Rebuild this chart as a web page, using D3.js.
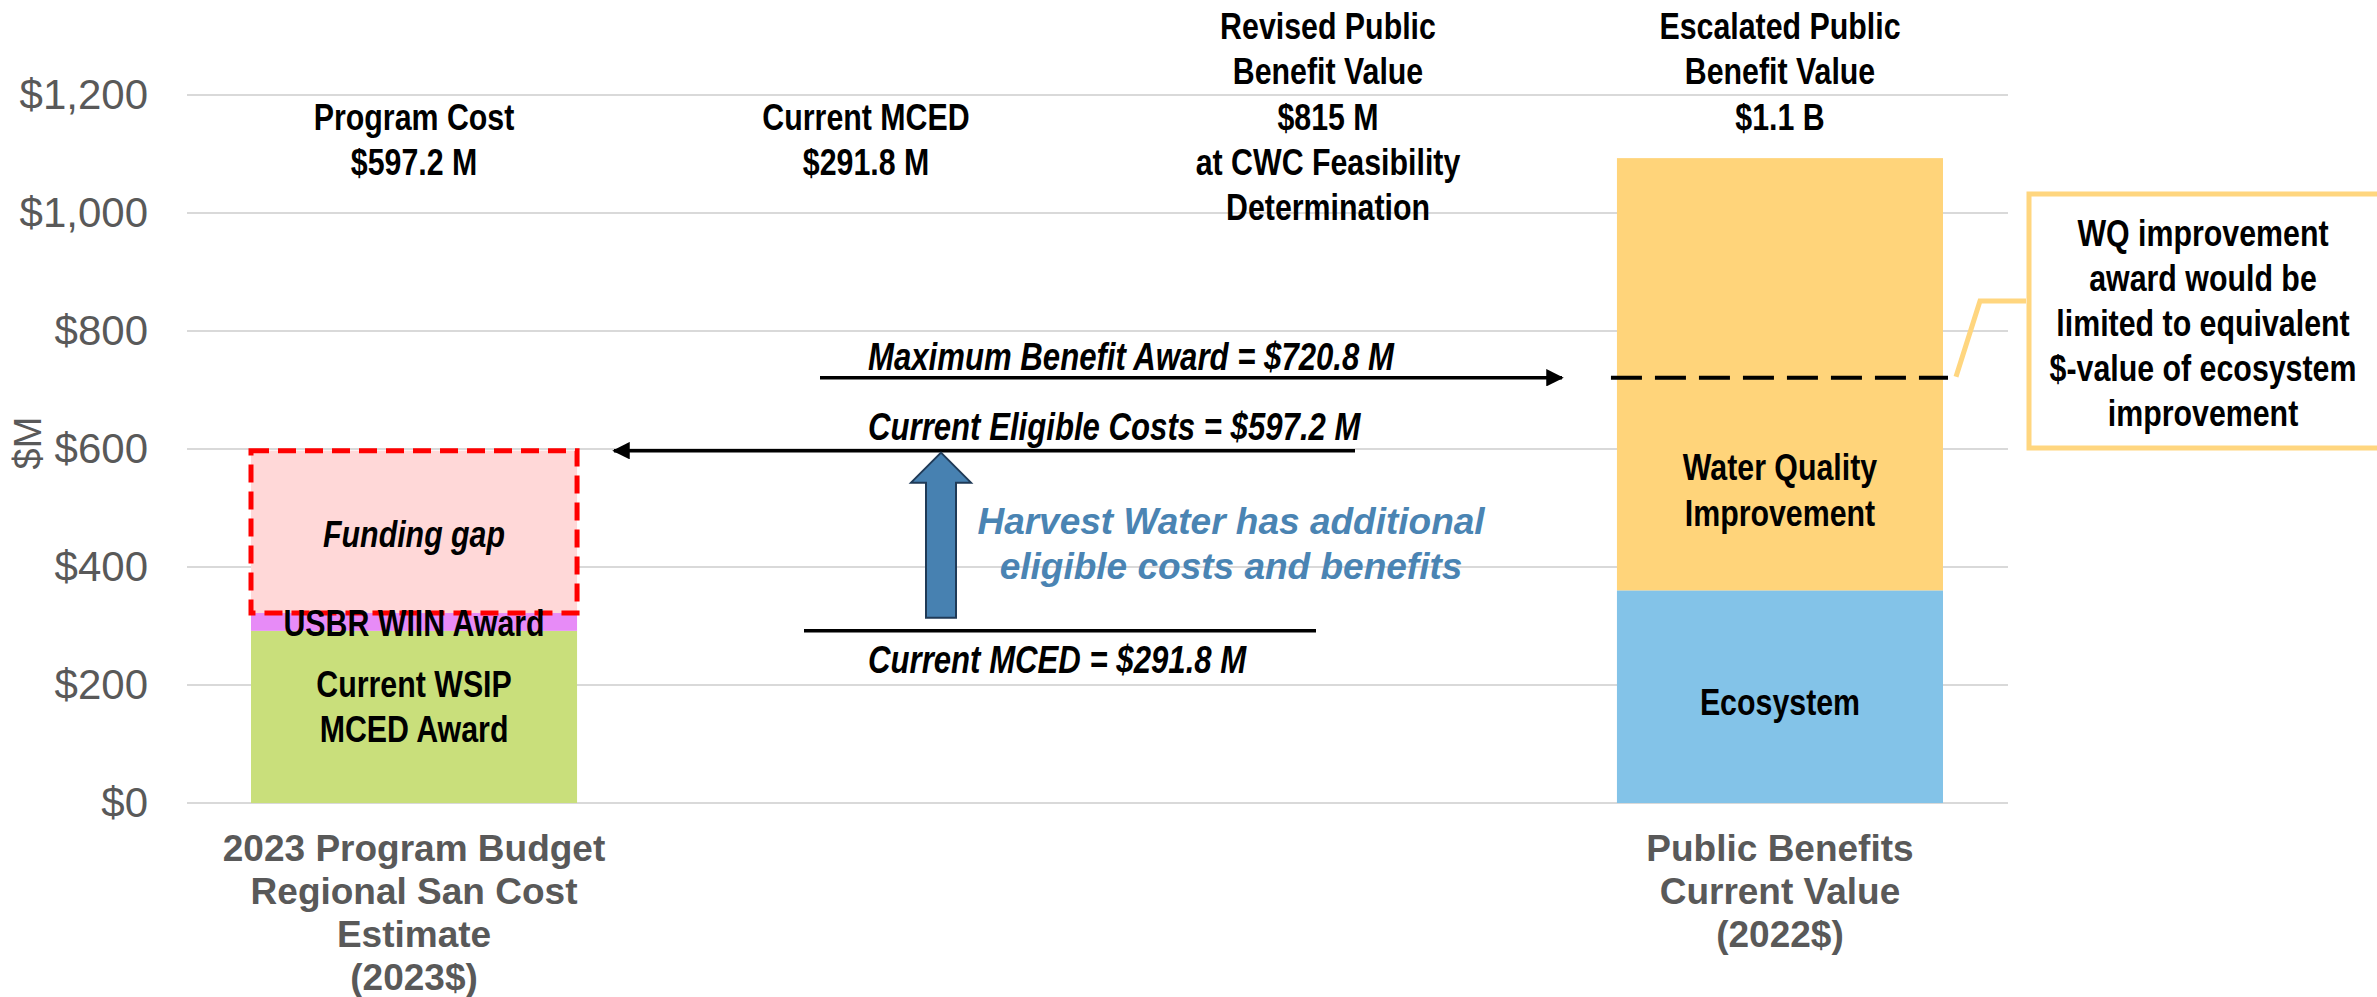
<!DOCTYPE html>
<html><head><meta charset="utf-8">
<script src="https://cdn.jsdelivr.net/npm/d3@7"></script>
<style>
html,body{margin:0;padding:0;background:#fff;}
svg{display:block;}
</style></head><body>
<svg id="chart" width="2377" height="997"></svg>
<script>
// ---------------- data ----------------
const categories = ["2023 Program Budget|Regional San Cost|Estimate|(2023$)", "Public Benefits|Current Value|(2022$)"];
const costSeries = ["Current WSIP|MCED Award", "USBR WIIN Award", "Funding gap"];
const costValues = [291.8, 30.2, 275.2];
const benefitSeries = ["Ecosystem", "Water Quality|Improvement"];
const benefitValues = [360.4, 732.6];
const tickValues = [0, 200, 400, 600, 800, 1000, 1200];
const tickLabels = ["$0", "$200", "$400", "$600", "$800", "$1,000", "$1,200"];
const refNames = ["Maximum Benefit Award = $720.8 M", "Current Eligible Costs = $597.2 M", "Current MCED = $291.8 M"];
const refValues = [720.8, 597.2, 291.8];
const topNotes = [
  ["Program Cost", "$597.2 M"],
  ["Current MCED", "$291.8 M"],
  ["Revised Public", "Benefit Value", "$815 M", "at CWC Feasibility", "Determination"],
  ["Escalated Public", "Benefit Value", "$1.1 B"]
];
const calloutLines = ["WQ improvement", "award would be", "limited to equivalent", "$-value of ecosystem", "improvement"];
const harvestLines = ["Harvest Water has additional", "eligible costs and benefits"];

// ---------------- layout ----------------
const svg = d3.select("#chart");
const SANS = "'Liberation Sans',Arial,sans-serif";
const GRAY = "#595959";
const SQ = 0.82; // horizontal compression to imitate a narrow face

const y = d3.scaleLinear().domain([0, 1200]).range([803, 95]);
const x = d3.scaleBand().domain(categories).range([251, 1943]).paddingInner(0.7613).paddingOuter(0);
const gridX0 = 187, gridX1 = 2008;

const defs = svg.append("defs");
defs.append("marker").attr("id", "ah").attr("viewBox", "0 0 10 10").attr("refX", 9).attr("refY", 5)
  .attr("markerWidth", 5).attr("markerHeight", 5).attr("markerUnits", "strokeWidth").attr("orient", "auto")
  .append("path").attr("d", "M0,0 L10,5 L0,10 z").attr("fill", "#000");

// gridlines
svg.append("g").selectAll("line").data(tickValues).join("line")
  .attr("x1", gridX0).attr("x2", gridX1)
  .attr("y1", d => y(d)).attr("y2", d => y(d))
  .attr("stroke", "#D9D9D9").attr("stroke-width", 2);

// y axis labels
const yAxis = d3.axisLeft(y).tickValues(tickValues).tickFormat((d, i) => tickLabels[i]).tickSize(0).tickPadding(0);
const gy = svg.append("g").attr("transform", "translate(148,0)").call(yAxis);
gy.select(".domain").remove();
gy.selectAll("text").attr("font-family", SANS).attr("font-size", 42).attr("fill", GRAY);

svg.append("text").attr("transform", "translate(28,443) rotate(-90)")
  .attr("text-anchor", "middle").attr("dy", "0.35em")
  .attr("font-family", SANS).attr("font-size", 38).attr("fill", GRAY).text("$M");

// helper for multi-line text; narrow = horizontally compressed bold face
function multi(lines, cx, cy, lh, opts) {
  const o = Object.assign({ size: 37, fill: "#000", italic: false, narrow: true, anchor: "middle" }, opts || {});
  const g = svg.append("g").attr("transform", `translate(${cx},0) scale(${o.narrow ? SQ : 1},1)`);
  const t = g.append("text").attr("text-anchor", o.anchor)
    .attr("font-family", SANS).attr("font-weight", "bold").attr("font-size", o.size).attr("fill", o.fill);
  if (o.italic) t.attr("font-style", "italic");
  const n = lines.length;
  lines.forEach((l, i) => {
    t.append("tspan").attr("x", 0).attr("y", cy + (i - (n - 1) / 2) * lh).attr("dy", "0.35em").text(l);
  });
  return t;
}

// ---------------- left stacked bar ----------------
const costColors = ["#C9DF7B", "#E78BF7", "#FFD8D8"];
let acc = 0;
const costStack = costValues.map((v, i) => { const s = { name: costSeries[i], y0: acc, y1: acc + v, i }; acc += v; return s; });
const bx0 = x(categories[0]), bw = x.bandwidth();
svg.append("g").selectAll("rect").data(costStack).join("rect")
  .attr("x", bx0).attr("width", bw)
  .attr("y", d => y(d.y1)).attr("height", d => y(d.y0) - y(d.y1))
  .attr("fill", (d, i) => costColors[i]);
// funding gap dashed border
const gap = costStack[2];
svg.append("rect").attr("x", bx0).attr("width", bw)
  .attr("y", y(gap.y1)).attr("height", y(gap.y0) - y(gap.y1))
  .attr("fill", "none").attr("stroke", "#FF0000").attr("stroke-width", 5).attr("stroke-dasharray", "18,9");

const cxL = bx0 + bw / 2;
multi(costSeries[0].split("|"), cxL, y((costStack[0].y0 + costStack[0].y1) / 2) - 10, 45);
multi([costSeries[1]], cxL, y((costStack[1].y0 + costStack[1].y1) / 2) + 1, 45);
multi([costSeries[2]], cxL, y((costStack[2].y0 + costStack[2].y1) / 2) + 2, 45, { italic: true });

// ---------------- right stacked bar ----------------
const benColors = ["#83C3E8", "#FFD47A"];
acc = 0;
const benStack = benefitValues.map((v, i) => { const s = { name: benefitSeries[i], y0: acc, y1: acc + v }; acc += v; return s; });
const rx0 = x(categories[1]);
svg.append("g").selectAll("rect").data(benStack).join("rect")
  .attr("x", rx0).attr("width", bw)
  .attr("y", d => y(d.y1)).attr("height", d => y(d.y0) - y(d.y1))
  .attr("fill", (d, i) => benColors[i]);
const cxR = rx0 + bw / 2;
multi([benefitSeries[0]], cxR, y((benStack[0].y0 + benStack[0].y1) / 2) + 5, 45);
multi(benefitSeries[1].split("|"), cxR, y(530), 46);

// dashed limit line on right bar at max benefit
svg.append("line").attr("x1", rx0 - 6).attr("x2", rx0 + bw + 5)
  .attr("y1", y(refValues[0])).attr("y2", y(refValues[0]))
  .attr("stroke", "#000").attr("stroke-width", 4).attr("stroke-dasharray", "31,13");

// category labels
categories.forEach(c => {
  const lines = c.split("|");
  const t = svg.append("text").attr("text-anchor", "middle")
    .attr("font-family", SANS).attr("font-weight", "bold").attr("font-size", 37).attr("fill", GRAY);
  lines.forEach((l, i) => t.append("tspan").attr("x", x(c) + bw / 2).attr("y", 848 + i * 43).attr("dy", "0.35em").text(l));
});

// ---------------- top notes ----------------
const noteX = [cxL, 866, 1328, cxR];
const noteRowY = [26, 71, 117, 162, 207];
topNotes.forEach((lines, k) => {
  const start = (k < 2) ? 2 : 0;
  const g = svg.append("g").attr("transform", `translate(${noteX[k]},0) scale(${SQ},1)`);
  const t = g.append("text").attr("text-anchor", "middle")
    .attr("font-family", SANS).attr("font-weight", "bold").attr("font-size", 37).attr("fill", "#000");
  lines.forEach((l, i) => t.append("tspan").attr("x", 0).attr("y", noteRowY[start + i]).attr("dy", "0.35em").text(l));
});

// ---------------- reference arrows / lines ----------------
const refG = svg.append("g");
refG.append("line").attr("x1", 820).attr("x2", 1562).attr("y1", y(refValues[0])).attr("y2", y(refValues[0]))
  .attr("stroke", "#000").attr("stroke-width", 3.5).attr("marker-end", "url(#ah)");
refG.append("line").attr("x1", 1355).attr("x2", 614).attr("y1", y(refValues[1])).attr("y2", y(refValues[1]))
  .attr("stroke", "#000").attr("stroke-width", 3.5).attr("marker-end", "url(#ah)");
refG.append("line").attr("x1", 804).attr("x2", 1316).attr("y1", y(refValues[2])).attr("y2", y(refValues[2]))
  .attr("stroke", "#000").attr("stroke-width", 3.5);

const refTextDy = [-21, -24, 29];
refNames.forEach((n, i) => {
  multi([n], 868, y(refValues[i]) + refTextDy[i], 45, { italic: true, anchor: "start", size: 38 });
});

// blue block arrow
const ax = 941, aTop = y(refValues[1]) + 2, aBot = y(refValues[2]) - 13, headH = 30, headW = 30, shaftW = 15;
svg.append("path")
  .attr("d", `M${ax},${aTop} L${ax + headW},${aTop + headH} L${ax + shaftW},${aTop + headH} L${ax + shaftW},${aBot} L${ax - shaftW},${aBot} L${ax - shaftW},${aTop + headH} L${ax - headW},${aTop + headH} Z`)
  .attr("fill", "#4781B1").attr("stroke", "#1F3A57").attr("stroke-width", 2);

multi(harvestLines, 1231, 544, 45, { italic: true, narrow: false, fill: "#4A84B3" });

// ---------------- callout ----------------
const CY = "#FFD67F";
svg.append("rect").attr("x", 2029).attr("y", 194).attr("width", 400).attr("height", 254)
  .attr("fill", "#fff").attr("stroke", CY).attr("stroke-width", 5);
svg.append("path").attr("d", `M1956,${y(refValues[0]) - 1} L1980,301 L2026,301`)
  .attr("fill", "none").attr("stroke", CY).attr("stroke-width", 5);
multi(calloutLines, 2203, 323, 45);
</script>
</body></html>
